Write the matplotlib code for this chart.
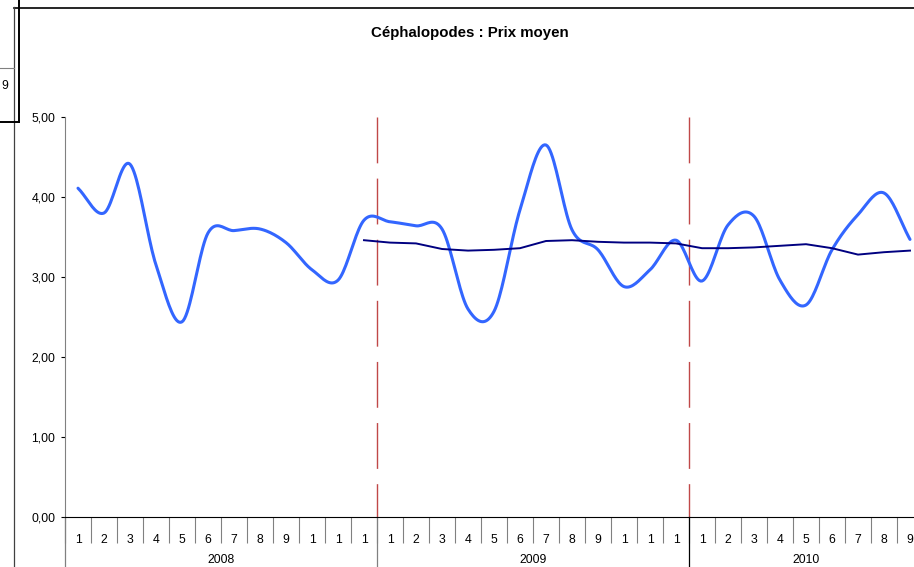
import matplotlib
matplotlib.use("Agg")
import matplotlib.pyplot as plt
from matplotlib.lines import Line2D
import matplotlib.transforms as mtransforms
import numpy as np

# monthly average price, Jan 2008 -> Sep 2010
prix = [4.11, 3.80, 4.41, 3.15, 2.44, 3.55, 3.58, 3.60, 3.43, 3.09, 2.96, 3.71,
        3.69, 3.64, 3.60, 2.60, 2.57, 3.84, 4.65, 3.59, 3.34, 2.88, 3.09, 3.46,
        2.95, 3.65, 3.76, 2.96, 2.65, 3.34, 3.78, 4.05, 3.47]
# 12-month moving average, Dec 2008 -> Sep 2010
moyenne = [3.46, 3.43, 3.42, 3.35, 3.33, 3.34, 3.36, 3.45, 3.46, 3.44, 3.43, 3.43,
           3.42, 3.36, 3.36, 3.37, 3.39, 3.41, 3.36, 3.28, 3.31, 3.33]
mois = ["1", "2", "3", "4", "5", "6", "7", "8", "9", "1", "1", "1"] * 2 + \
       ["1", "2", "3", "4", "5", "6", "7", "8", "9"]
annees = ["2008", "2009", "2010"]
mois_par_annee = [12, 12, 9]

W, H = 914, 567
BLUE = "#3366FF"
NAVY = "#000080"
RED = "#C04848"
GRAY = "#808080"
FS = 8.8

plt.rcParams["font.family"] = ["Liberation Sans", "DejaVu Sans"]


def smooth(y, n=20):
    # excel-like smoothed line (Catmull-Rom through the points)
    y = np.asarray(y, dtype=float)
    p = np.concatenate([[2 * y[0] - y[1]], y, [2 * y[-1] - y[-2]]])
    xs, ys = [], []
    t = np.linspace(0, 1, n, endpoint=False)
    for i in range(len(y) - 1):
        p0, p1, p2, p3 = p[i], p[i + 1], p[i + 2], p[i + 3]
        c = 0.5 * ((2 * p1) + (-p0 + p2) * t + (2 * p0 - 5 * p1 + 4 * p2 - p3) * t ** 2
                   + (-p0 + 3 * p1 - 3 * p2 + p3) * t ** 3)
        xs.extend(i + t)
        ys.extend(c)
    xs.append(len(y) - 1)
    ys.append(y[-1])
    return np.array(xs), np.array(ys)


fig = plt.figure(figsize=(W / 100, H / 100), dpi=100)
fig.patch.set_facecolor("white")

# plot area in pixel coords: x 65 -> 923 (cropped at 914), y 117 -> 517
left, right, top, bottom = 65, 923, 117, 517
ax = fig.add_axes([left / W, (H - bottom) / H, (right - left) / W, (bottom - top) / H])
n = len(prix)
ax.set_xlim(-0.5, n - 0.5)
ax.set_ylim(0, 5)

xs, ys = smooth(prix)
ax.plot(xs, ys, color=BLUE, lw=2.2, solid_capstyle="round", zorder=3)
x_moy = np.arange(n - len(moyenne), n)
ax.plot(x_moy, moyenne, color=NAVY, lw=1.4, zorder=4)

# year separators (drawn top -> bottom so the dashes start at the top)
for b in np.cumsum(mois_par_annee)[:-1] - 0.5:
    ax.plot([b, b], [5, 0], color=RED, lw=1, dashes=(33, 11), zorder=2)

for s in ["top", "right"]:
    ax.spines[s].set_visible(False)
ax.spines["left"].set_color(GRAY)
ax.spines["bottom"].set_color("black")

ax.set_yticks([0, 1, 2, 3, 4, 5])
ax.set_yticklabels([("%.2f" % v).replace(".", ",") for v in [0, 1, 2, 3, 4, 5]])
ax.tick_params(axis="y", length=3, width=0.8, color="black", labelsize=FS, pad=4)

# category boundaries as major ticks, month labels as minor ticks
ax.set_xticks(np.arange(n + 1) - 0.5)
ax.set_xticklabels([])
ax.tick_params(axis="x", which="major", length=19, width=0.8, color=GRAY)
ax.set_xticks(np.arange(n), minor=True)
ax.set_xticklabels(mois, minor=True)
ax.tick_params(axis="x", which="minor", length=0, labelsize=FS, pad=12)

# year labels and long separators under the axis
trans = mtransforms.blended_transform_factory(ax.transData, ax.transAxes)
start = 0
for an, k in zip(annees, mois_par_annee):
    ax.text(start + (k - 1) / 2, -43 / 400, an, transform=trans, ha="center",
            va="center", fontsize=FS)
    start += k
for b, c in zip([-0.5, 11.5, 23.5], [GRAY, GRAY, "black"]):
    ax.add_line(Line2D([b, b], [0, -0.13], transform=trans, color=c, lw=0.9,
                       clip_on=False))

fig.text(470 / W, 1 - 33 / H, "Céphalopodes : Prix moyen", ha="center",
         va="center", fontsize=10.8, fontweight="bold")


# bits of the spreadsheet around the chart
def px_line(xa, ya, color="black", lw=1.0):
    fig.add_artist(Line2D([x / W for x in xa], [1 - y / H for y in ya],
                          transform=fig.transFigure, color=color, lw=lw))


px_line([14, 914], [7.5, 7.5], lw=1.2)
px_line([14, 14], [7, 567], color="#404040", lw=0.9)
px_line([18.5, 18.5], [0, 122], lw=1.4)
px_line([0, 18.5], [122, 122], lw=1.4)
px_line([0, 14], [68, 68], color=GRAY, lw=0.8)
fig.text(1 / W, 1 - 86 / H, "9", ha="left", va="center", fontsize=FS)

fig.savefig("out.png", dpi=100)
